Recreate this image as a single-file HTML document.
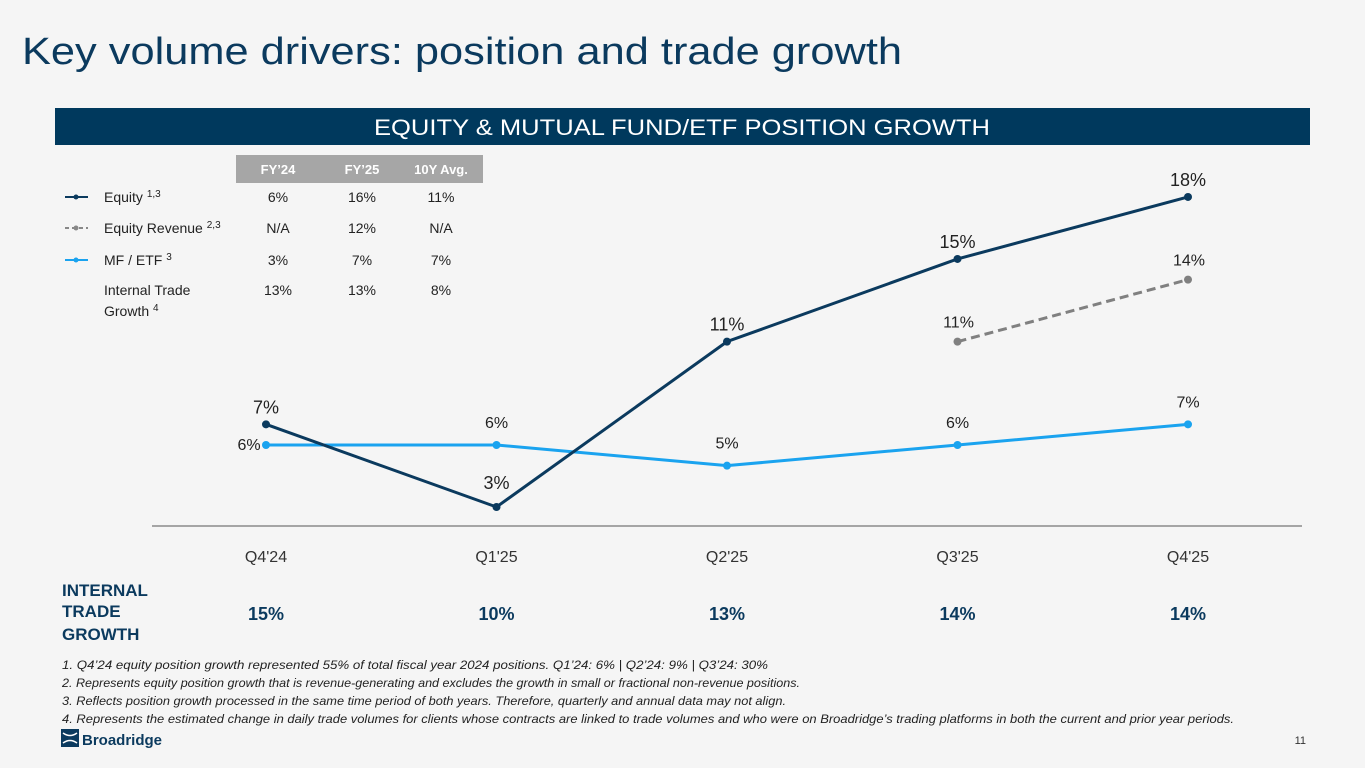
<!DOCTYPE html>
<html><head><meta charset="utf-8"><style>
body{margin:0;background:#f5f5f5;}
svg{display:block;font-family:"Liberation Sans",sans-serif;}
</style></head><body>
<svg width="1365" height="768" viewBox="0 0 1365 768">
<rect width="1365" height="768" fill="#f5f5f5"/>
<text x="22" y="64" font-size="38" fill="#0b3a5e" textLength="880" lengthAdjust="spacingAndGlyphs">Key volume drivers: position and trade growth</text>
<rect x="55" y="108" width="1255" height="37" fill="#00395d"/>
<text x="682" y="135" font-size="22" fill="#fff" text-anchor="middle" textLength="616" lengthAdjust="spacingAndGlyphs">EQUITY &amp; MUTUAL FUND/ETF POSITION GROWTH</text>
<g>
<rect x="236" y="155" width="247" height="28" fill="#a6a6a6"/>
<g font-size="13" font-weight="bold" fill="#fff" text-anchor="middle">
<text x="278" y="174">FY’24</text><text x="362" y="174">FY’25</text><text x="441" y="174">10Y Avg.</text></g>
<g font-size="14" fill="#222">
<line x1="65" y1="197" x2="88" y2="197" stroke="#0b3a5e" stroke-width="2"/><circle cx="76" cy="197" r="2.5" fill="#0b3a5e"/>
<text x="104" y="202">Equity <tspan font-size="10" dy="-5">1,3</tspan></text>
<line x1="65" y1="228" x2="88" y2="228" stroke="#888" stroke-width="2" stroke-dasharray="4,3"/><circle cx="76" cy="228" r="2.5" fill="#888"/>
<text x="104" y="233">Equity Revenue <tspan font-size="10" dy="-5">2,3</tspan></text>
<line x1="65" y1="260" x2="88" y2="260" stroke="#1aa3ef" stroke-width="2"/><circle cx="76" cy="260" r="2.5" fill="#1aa3ef"/>
<text x="104" y="265">MF / ETF <tspan font-size="10" dy="-5">3</tspan></text>
<text x="104" y="295">Internal Trade</text><text x="104" y="316">Growth <tspan font-size="10" dy="-5">4</tspan></text>
</g>
<g font-size="14" fill="#222" text-anchor="middle">
<text x="278" y="202">6%</text><text x="362" y="202">16%</text><text x="441" y="202">11%</text>
<text x="278" y="233">N/A</text><text x="362" y="233">12%</text><text x="441" y="233">N/A</text>
<text x="278" y="265">3%</text><text x="362" y="265">7%</text><text x="441" y="265">7%</text>
<text x="278" y="295">13%</text><text x="362" y="295">13%</text><text x="441" y="295">8%</text>
</g></g>
<g id="chart"></g>
<g font-size="17" font-weight="bold" fill="#0b3a5e">
<text x="62" y="596">INTERNAL</text><text x="62" y="617">TRADE</text><text x="62" y="640">GROWTH</text></g>
<g id="trade" font-size="18" font-weight="bold" fill="#0b3a5e" text-anchor="middle"></g>
<g font-size="12" font-style="italic" fill="#222">
<text x="62" y="669" textLength="706" lengthAdjust="spacingAndGlyphs">1. Q4’24 equity position growth represented 55% of total fiscal year 2024 positions. Q1’24: 6% | Q2’24: 9% | Q3’24: 30%</text>
<text x="62" y="687" textLength="738" lengthAdjust="spacingAndGlyphs">2. Represents equity position growth that is revenue-generating and excludes the growth in small or fractional non-revenue positions.</text>
<text x="62" y="705" textLength="724" lengthAdjust="spacingAndGlyphs">3. Reflects position growth processed in the same time period of both years. Therefore, quarterly and annual data may not align.</text>
<text x="62" y="723" textLength="1172" lengthAdjust="spacingAndGlyphs">4. Represents the estimated change in daily trade volumes for clients whose contracts are linked to trade volumes and who were on Broadridge’s trading platforms in both the current and prior year periods.</text>
</g>
<g>
<rect x="61" y="729" width="18" height="18" fill="#0b3a5e"/>
<path d="M63 733 Q70 738 77 733 M63 743 Q70 738 77 743" stroke="#fff" stroke-width="1.5" fill="none"/>
<text x="82" y="745" font-size="15" font-weight="bold" fill="#0b3a5e">Broadridge</text></g>
<text x="1306" y="744" font-size="11" fill="#333" text-anchor="end">11</text>
</svg>
<script>
const categories=["Q4'24","Q1'25","Q2'25","Q3'25","Q4'25"];
const equity=[7,3,11,15,18];
const equityRevenue=[null,null,null,11,14];
const mfEtf=[6,6,5,6,7];
const tradeGrowth=["15%","10%","13%","14%","14%"];
const NS="http://www.w3.org/2000/svg";
const g=document.getElementById('chart');
const xs=i=>266+i*230.5;
const ys=v=>507-(v-3)*20.67;
function el(t,a,p){const e=document.createElementNS(NS,t);for(const k in a)e.setAttribute(k,a[k]);(p||g).appendChild(e);return e;}
const ax=el('line',{x1:152,y1:526,x2:1302,y2:526,stroke:'#555','stroke-width':1});


categories.forEach((c,i)=>{const t=el('text',{x:xs(i),y:562,'font-size':16,fill:'#333','text-anchor':'middle'});t.textContent=c;


const tt=el('text',{x:xs(i),y:620},document.getElementById('trade'));tt.textContent=tradeGrowth[i];

});
function series(data,color,dash,name,labelFn){
 const pts=[];data.forEach((v,i)=>{if(v!=null)pts.push([xs(i),ys(v),v,i]);});
 const p=el('polyline',{points:pts.map(p=>p[0]+','+p[1]).join(' '),fill:'none',stroke:color,'stroke-width':3,'stroke-dasharray':dash||'none'});
 
 
 pts.forEach(q=>{const c=el('circle',{cx:q[0],cy:q[1],r:4,fill:color});
 
 
 const l=labelFn(q);const t=el('text',{x:l[0],y:l[1],'font-size':l[2],fill:'#222','text-anchor':'middle'});t.textContent=q[2]+'%';
 
 });
}
series(equityRevenue,'#808080','9,5','equity-revenue',q=>[q[0]+1,q[1]-14,16]);
series(mfEtf,'#1aa3ef',null,'mf-etf',q=>q[3]==0?[q[0]-17,q[1]+5,16]:[q[0],q[1]-17,16]);
series(equity,'#0b3a5e',null,'equity',q=>q[3]==1?[q[0],q[1]-18,18]:[q[0],q[1]-11,18]);
</script>
</body></html>
